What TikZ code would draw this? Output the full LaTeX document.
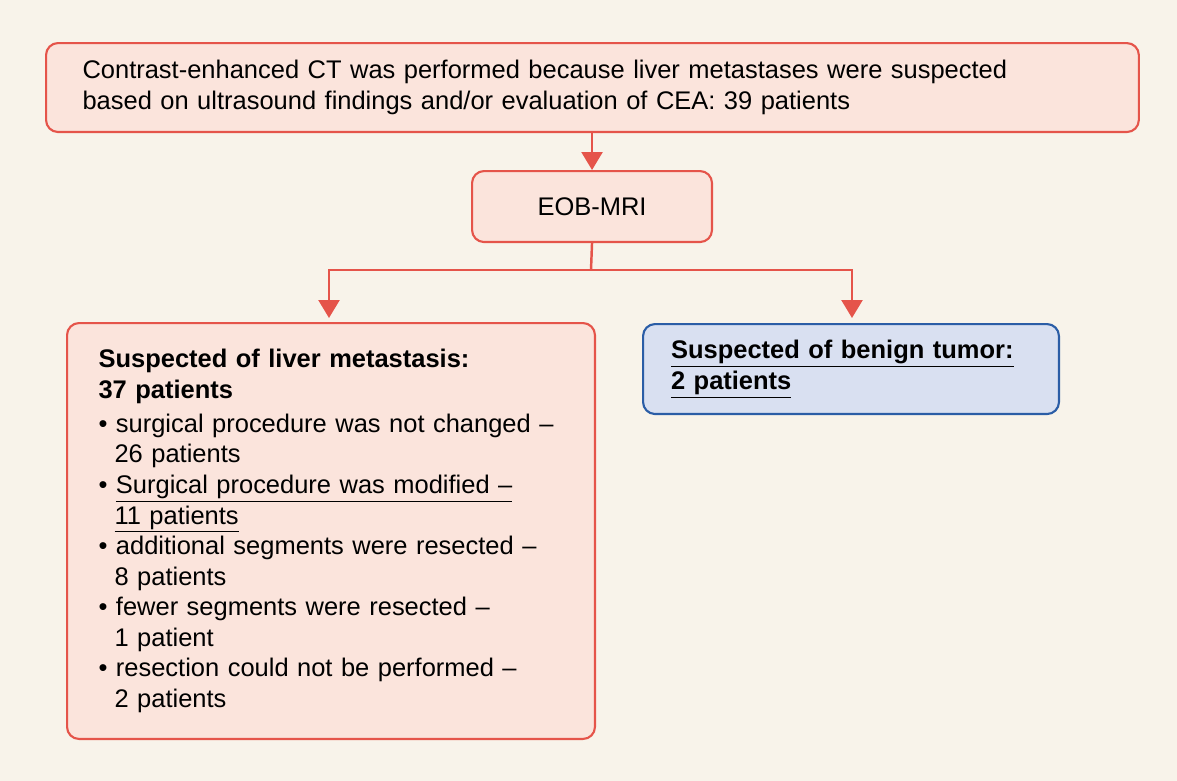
\documentclass[tikz,border=0pt]{standalone}
\usepackage{fontspec}
\setmainfont{Liberation Sans}
\usetikzlibrary{arrows.meta}
\definecolor{pagebg}{HTML}{F8F3EA}
\definecolor{redline}{HTML}{E5544A}
\definecolor{redfill}{HTML}{FBE4DC}
\definecolor{blueline}{HTML}{2B5DA6}
\definecolor{bluefill}{HTML}{D9E0F1}
\tikzset{
  box/.style={draw=redline, fill=redfill, line width=1.2pt, rounded corners=0.24cm,
    font=\fontsize{14.5}{17.4}\selectfont, align=left},
  bluebox/.style={box, draw=blueline, fill=bluefill},
  flow/.style={draw=redline, line width=1.4pt, -{Triangle[width=0.42cm,length=0.36cm]}}
}
\begin{document}
\begin{tikzpicture}[x=0.02cm,y=-0.02cm]
  \fill[pagebg] (0,0) rectangle (1177,781);
  \useasboundingbox (0,0) rectangle (1177,781);
  % boxes
  \node[box, anchor=north west, minimum width=21.86cm, minimum height=1.78cm,
    text width=20.4cm, inner xsep=0.73cm] (ct) at (45,42)
    {Contrast-enhanced CT was performed because liver metastases were suspected\\
     based on ultrasound findings and/or evaluation of CEA: 39 patients};
  \node[box, anchor=north west, minimum width=4.8cm, minimum height=1.42cm,
    align=center] (mri) at (471,170) {EOB-MRI};
  \node[box, anchor=north west, minimum width=10.56cm, minimum height=8.32cm,
    text width=9.3cm, inner xsep=0.62cm] (meta) at (66,322)
    {\textbf{Suspected of liver metastasis:}\\
     \textbf{37 patients}\\[2pt]
     \textbullet\ surgical procedure was not changed --\\
     \hspace*{0.32cm}26 patients\\
     \textbullet\ \underline{Surgical procedure was modified --}\\
     \hspace*{0.32cm}\underline{11 patients}\\
     \textbullet\ additional segments were resected --\\
     \hspace*{0.32cm}8 patients\\
     \textbullet\ fewer segments were resected --\\
     \hspace*{0.32cm}1 patient\\
     \textbullet\ resection could not be performed --\\
     \hspace*{0.32cm}2 patients};
  \node[bluebox, anchor=north west, minimum width=8.32cm, minimum height=1.8cm,
    text width=7.2cm, inner xsep=0.56cm] (benign) at (642,323)
    {\textbf{\underline{Suspected of benign tumor:}}\\
     \textbf{\underline{2 patients}}};
  % connectors
  \coordinate (split) at (591,270);
  \draw[flow] (ct.south -| mri.north) -- (mri.north);
  \draw[draw=redline, line width=1.4pt] (mri.south) -- (split);
  \draw[flow] (split) -| (329,318);
  \draw[flow] (split) -| (852,318);
\end{tikzpicture}
\end{document}
